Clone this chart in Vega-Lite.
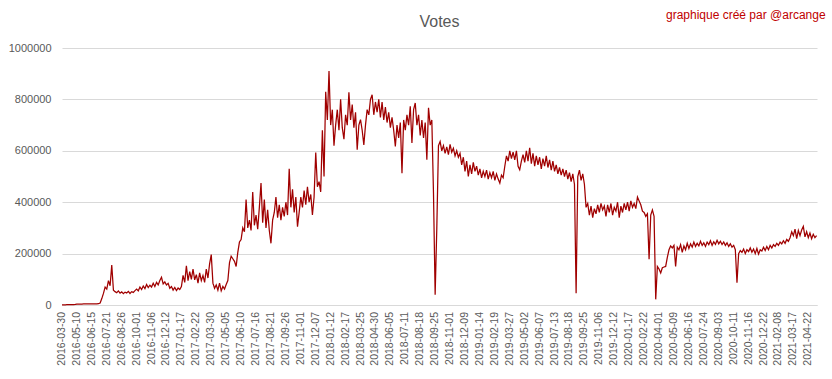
{
 "$schema": "https://vega.github.io/schema/vega-lite/v6.json",
 "width": 755, "height": 257,
 "autosize": {"type": "none"},
 "padding": {"left": 62, "top": 48, "right": 15, "bottom": 74},
 "background": "white",
 "config": {"view": {"stroke": null}, "font": "Liberation Sans"},
 "title": {"text": "Votes", "fontSize": 16, "fontWeight": "normal", "color": "#595959", "anchor": "middle", "offset": -21, "font": "Liberation Sans"},
 "layer": [
  {
   "data": {"values": [
{"d":0,"v":500},{"d":4,"v":600},{"d":8,"v":800},{"d":12,"v":1000},{"d":16,"v":1000},{"d":20,"v":1200},{"d":24,"v":1500},{"d":28,"v":1500},{"d":32,"v":2000},{"d":36,"v":3000},{"d":40,"v":3500},{"d":44,"v":3500},{"d":48,"v":3800},{"d":52,"v":4000},{"d":56,"v":4000},{"d":60,"v":4000},{"d":64,"v":4200},{"d":68,"v":4200},{"d":72,"v":4500},{"d":76,"v":4500},{"d":80,"v":4500},{"d":84,"v":4800},{"d":88,"v":5000},{"d":92,"v":8000},{"d":96,"v":25000},{"d":100,"v":45000},{"d":104,"v":70000},{"d":108,"v":62000},{"d":112,"v":95000},{"d":116,"v":75000},{"d":120,"v":155000},{"d":124,"v":58000},{"d":128,"v":52000},{"d":132,"v":48000},{"d":136,"v":55000},{"d":140,"v":46000},{"d":144,"v":51000},{"d":148,"v":44000},{"d":152,"v":50000},{"d":156,"v":47000},{"d":160,"v":53000},{"d":164,"v":45000},{"d":168,"v":52000},{"d":172,"v":49000},{"d":176,"v":56000},{"d":180,"v":62000},{"d":184,"v":55000},{"d":188,"v":70000},{"d":192,"v":60000},{"d":196,"v":74000},{"d":200,"v":64000},{"d":204,"v":80000},{"d":208,"v":68000},{"d":212,"v":77000},{"d":216,"v":70000},{"d":220,"v":85000},{"d":224,"v":72000},{"d":228,"v":88000},{"d":232,"v":78000},{"d":236,"v":95000},{"d":240,"v":108000},{"d":244,"v":82000},{"d":248,"v":90000},{"d":252,"v":78000},{"d":256,"v":84000},{"d":260,"v":65000},{"d":264,"v":72000},{"d":268,"v":58000},{"d":272,"v":68000},{"d":276,"v":56000},{"d":280,"v":66000},{"d":284,"v":60000},{"d":288,"v":72000},{"d":292,"v":115000},{"d":296,"v":88000},{"d":300,"v":152000},{"d":304,"v":95000},{"d":308,"v":130000},{"d":312,"v":100000},{"d":316,"v":140000},{"d":320,"v":98000},{"d":324,"v":118000},{"d":328,"v":85000},{"d":332,"v":125000},{"d":336,"v":95000},{"d":340,"v":115000},{"d":344,"v":88000},{"d":348,"v":140000},{"d":352,"v":105000},{"d":356,"v":160000},{"d":360,"v":196000},{"d":364,"v":85000},{"d":368,"v":65000},{"d":372,"v":78000},{"d":376,"v":58000},{"d":380,"v":85000},{"d":384,"v":55000},{"d":388,"v":72000},{"d":392,"v":62000},{"d":396,"v":80000},{"d":400,"v":95000},{"d":404,"v":165000},{"d":408,"v":190000},{"d":412,"v":180000},{"d":416,"v":170000},{"d":420,"v":150000},{"d":424,"v":205000},{"d":428,"v":245000},{"d":432,"v":255000},{"d":436,"v":300000},{"d":440,"v":285000},{"d":444,"v":410000},
{"d":448,"v":300000},{"d":452,"v":330000},{"d":456,"v":290000},{"d":460,"v":440000},{"d":464,"v":310000},{"d":468,"v":350000},{"d":472,"v":295000},{"d":476,"v":380000},{"d":480,"v":475000},{"d":484,"v":320000},{"d":488,"v":410000},{"d":492,"v":300000},{"d":496,"v":370000},{"d":500,"v":290000},{"d":504,"v":240000},{"d":508,"v":330000},{"d":512,"v":360000},{"d":516,"v":420000},{"d":520,"v":340000},{"d":524,"v":390000},{"d":528,"v":330000},{"d":532,"v":380000},{"d":536,"v":345000},{"d":540,"v":400000},{"d":544,"v":350000},{"d":548,"v":530000},{"d":552,"v":380000},{"d":556,"v":450000},{"d":560,"v":360000},{"d":564,"v":420000},{"d":568,"v":305000},{"d":572,"v":360000},{"d":576,"v":420000},{"d":580,"v":380000},{"d":584,"v":445000},{"d":588,"v":390000},{"d":592,"v":460000},{"d":596,"v":400000},{"d":600,"v":430000},{"d":604,"v":350000},{"d":608,"v":420000},{"d":612,"v":593000},{"d":616,"v":460000},{"d":620,"v":480000},{"d":624,"v":440000},{"d":628,"v":680000},{"d":632,"v":500000},{"d":636,"v":830000},{"d":640,"v":720000},{"d":644,"v":910000},{"d":648,"v":700000},{"d":652,"v":760000},{"d":656,"v":620000},{"d":660,"v":700000},{"d":664,"v":760000},{"d":668,"v":680000},{"d":672,"v":800000},{"d":676,"v":690000},{"d":680,"v":645000},{"d":684,"v":740000},{"d":688,"v":700000},{"d":692,"v":828000},{"d":696,"v":720000},{"d":700,"v":780000},{"d":704,"v":690000},{"d":708,"v":750000},{"d":712,"v":604000},{"d":716,"v":700000},{"d":720,"v":721000},{"d":724,"v":680000},{"d":728,"v":623000},{"d":732,"v":700000},{"d":736,"v":760000},{"d":740,"v":740000},{"d":744,"v":800000},{"d":748,"v":818000},{"d":752,"v":740000},{"d":756,"v":790000},{"d":760,"v":750000},{"d":764,"v":800000},{"d":768,"v":730000},{"d":772,"v":790000},{"d":776,"v":720000},{"d":780,"v":770000},{"d":784,"v":710000},{"d":788,"v":750000},{"d":792,"v":690000},{"d":796,"v":730000},{"d":800,"v":680000},{"d":804,"v":617000},{"d":808,"v":700000},{"d":812,"v":650000},{"d":816,"v":710000},{"d":820,"v":513000},{"d":824,"v":720000},{"d":828,"v":680000},{"d":832,"v":740000},{"d":836,"v":700000},{"d":840,"v":773000},{"d":844,"v":630000},{"d":848,"v":760000},{"d":852,"v":786000},{"d":856,"v":700000},{"d":860,"v":740000},{"d":864,"v":660000},{"d":868,"v":720000},{"d":872,"v":650000},{"d":876,"v":710000},{"d":880,"v":565000},{"d":884,"v":767000},{"d":888,"v":700000},{"d":892,"v":720000},{"d":896,"v":435000},{"d":900,"v":40000},{"d":904,"v":300000},{"d":908,"v":620000},{"d":912,"v":636000},{"d":916,"v":600000},{"d":920,"v":620000},{"d":924,"v":590000},{"d":928,"v":615000},{"d":932,"v":585000},{"d":936,"v":625000},{"d":940,"v":595000},{"d":944,"v":610000},{"d":948,"v":580000},{"d":952,"v":600000},{"d":956,"v":575000},{"d":960,"v":590000},{"d":964,"v":545000},{"d":968,"v":575000},{"d":972,"v":520000},{"d":976,"v":560000},{"d":980,"v":500000},{"d":984,"v":545000},{"d":988,"v":510000},{"d":992,"v":555000},{"d":996,"v":520000},{"d":1000,"v":540000},{"d":1004,"v":505000},{"d":1008,"v":530000},{"d":1012,"v":495000},{"d":1016,"v":520000},{"d":1020,"v":500000},{"d":1024,"v":525000},{"d":1028,"v":490000},{"d":1032,"v":515000},{"d":1036,"v":495000},{"d":1040,"v":520000},{"d":1044,"v":485000},{"d":1048,"v":510000},{"d":1052,"v":490000},{"d":1056,"v":474000},{"d":1060,"v":505000},{"d":1064,"v":495000},{"d":1068,"v":540000},{"d":1072,"v":580000},{"d":1076,"v":560000},{"d":1080,"v":600000},{"d":1084,"v":570000},{"d":1088,"v":595000},{"d":1092,"v":565000},{"d":1096,"v":600000},{"d":1100,"v":540000},{"d":1104,"v":526000},{"d":1108,"v":560000},{"d":1112,"v":585000},{"d":1116,"v":555000},{"d":1120,"v":600000},{"d":1124,"v":560000},{"d":1128,"v":612000},{"d":1132,"v":550000},{"d":1136,"v":590000},{"d":1140,"v":540000},{"d":1144,"v":580000},{"d":1148,"v":545000},{"d":1152,"v":575000},{"d":1156,"v":530000},{"d":1160,"v":570000},{"d":1164,"v":540000},{"d":1168,"v":580000},{"d":1172,"v":535000},{"d":1176,"v":565000},{"d":1180,"v":525000},{"d":1184,"v":560000},{"d":1188,"v":520000},{"d":1192,"v":545000},{"d":1196,"v":510000},{"d":1200,"v":535000},{"d":1204,"v":505000},{"d":1208,"v":530000},{"d":1212,"v":500000},{"d":1216,"v":525000},{"d":1220,"v":490000},{"d":1224,"v":515000},{"d":1228,"v":480000},{"d":1232,"v":510000},{"d":1236,"v":470000},{"d":1240,"v":46000},{"d":1244,"v":500000},{"d":1248,"v":525000},{"d":1252,"v":485000},{"d":1256,"v":510000},{"d":1260,"v":470000},{"d":1264,"v":380000},{"d":1268,"v":395000},{"d":1272,"v":350000},{"d":1276,"v":385000},{"d":1280,"v":340000},{"d":1284,"v":375000},{"d":1288,"v":355000},{"d":1292,"v":390000},{"d":1296,"v":360000},{"d":1300,"v":395000},{"d":1304,"v":370000},{"d":1308,"v":385000},{"d":1312,"v":345000},{"d":1316,"v":390000},{"d":1320,"v":360000},{"d":1324,"v":395000},{"d":1328,"v":350000},{"d":1332,"v":380000},{"d":1336,"v":365000},{"d":1340,"v":400000},{"d":1344,"v":340000},{"d":1348,"v":385000},{"d":1352,"v":360000},{"d":1356,"v":395000},{"d":1360,"v":370000},{"d":1364,"v":400000},{"d":1368,"v":365000},{"d":1372,"v":405000},{"d":1376,"v":380000},{"d":1380,"v":395000},{"d":1384,"v":375000},{"d":1388,"v":420000},{"d":1392,"v":405000},{"d":1396,"v":390000},{"d":1400,"v":365000},{"d":1404,"v":360000},{"d":1408,"v":345000},{"d":1412,"v":355000},{"d":1416,"v":178000},{"d":1420,"v":350000},{"d":1424,"v":370000},{"d":1428,"v":345000},{"d":1432,"v":22000},{"d":1436,"v":150000},{"d":1440,"v":140000},{"d":1444,"v":125000},{"d":1448,"v":145000},{"d":1452,"v":148000},{"d":1456,"v":150000},{"d":1460,"v":185000},{"d":1464,"v":215000},{"d":1468,"v":230000},{"d":1472,"v":222000},{"d":1476,"v":232000},{"d":1480,"v":150000},{"d":1484,"v":225000},{"d":1488,"v":215000},{"d":1492,"v":235000},{"d":1496,"v":205000},{"d":1500,"v":230000},{"d":1504,"v":215000},{"d":1508,"v":240000},{"d":1512,"v":220000},{"d":1516,"v":238000},{"d":1520,"v":225000},{"d":1524,"v":245000},{"d":1528,"v":228000},{"d":1532,"v":240000},{"d":1536,"v":230000},{"d":1540,"v":248000},{"d":1544,"v":232000},{"d":1548,"v":242000},{"d":1552,"v":228000},{"d":1556,"v":245000},{"d":1560,"v":235000},{"d":1564,"v":250000},{"d":1568,"v":232000},{"d":1572,"v":246000},{"d":1576,"v":236000},{"d":1580,"v":252000},{"d":1584,"v":238000},{"d":1588,"v":248000},{"d":1592,"v":235000},{"d":1596,"v":245000},{"d":1600,"v":232000},{"d":1604,"v":242000},{"d":1608,"v":228000},{"d":1612,"v":238000},{"d":1616,"v":225000},{"d":1620,"v":232000},{"d":1624,"v":215000},{"d":1628,"v":87000},{"d":1632,"v":200000},{"d":1636,"v":212000},{"d":1640,"v":205000},{"d":1644,"v":218000},{"d":1648,"v":200000},{"d":1652,"v":215000},{"d":1656,"v":208000},{"d":1660,"v":222000},{"d":1664,"v":205000},{"d":1668,"v":218000},{"d":1672,"v":200000},{"d":1676,"v":220000},{"d":1680,"v":198000},{"d":1684,"v":215000},{"d":1688,"v":210000},{"d":1692,"v":225000},{"d":1696,"v":212000},{"d":1700,"v":228000},{"d":1704,"v":215000},{"d":1708,"v":232000},{"d":1712,"v":222000},{"d":1716,"v":235000},{"d":1720,"v":228000},{"d":1724,"v":240000},{"d":1728,"v":232000},{"d":1732,"v":245000},{"d":1736,"v":238000},{"d":1740,"v":250000},{"d":1744,"v":240000},{"d":1748,"v":255000},{"d":1752,"v":248000},{"d":1756,"v":262000},{"d":1760,"v":285000},{"d":1764,"v":270000},{"d":1768,"v":295000},{"d":1772,"v":258000},{"d":1776,"v":290000},{"d":1780,"v":270000},{"d":1784,"v":292000},{"d":1788,"v":306000},{"d":1792,"v":265000},{"d":1796,"v":285000},{"d":1800,"v":262000},{"d":1804,"v":280000},{"d":1808,"v":258000},{"d":1812,"v":275000},{"d":1816,"v":262000},{"d":1820,"v":270000}
   ]},
   "mark": {"type": "line", "color": "#a00000", "strokeWidth": 1.25},
   "encoding": {
    "x": {"field": "d", "type": "quantitative",
     "scale": {"domain": [0, 1821], "nice": false, "zero": false},
     "axis": {"title": null, "grid": false, "ticks": false, "labels": false, "domainColor": "#d9d9d9"}},
    "y": {"field": "v", "type": "quantitative",
     "scale": {"domain": [0, 1000000], "nice": false},
     "axis": {"title": null, "values": [0,100000,200000,300000,400000,500000,600000,700000,800000,900000,1000000], "format": "d", "grid": true, "gridColor": "#d9d9d9", "domain": false, "ticks": false, "labelColor": "#595959", "labelFontSize": 11, "labelPadding": 11}}
   }
  },
  {
   "data": {"values": [
{"d":0,"t":"2016-03-30"},{"d":36,"t":"2016-05-10"},{"d":72,"t":"2016-06-15"},{"d":108,"t":"2016-07-21"},{"d":144,"t":"2016-08-26"},{"d":180,"t":"2016-10-01"},{"d":216,"t":"2016-11-06"},{"d":252,"t":"2016-12-12"},{"d":288,"t":"2017-01-17"},{"d":324,"t":"2017-02-22"},{"d":360,"t":"2017-03-30"},{"d":396,"t":"2017-05-05"},{"d":432,"t":"2017-06-10"},{"d":468,"t":"2017-07-16"},{"d":504,"t":"2017-08-21"},{"d":540,"t":"2017-09-26"},{"d":576,"t":"2017-11-01"},{"d":612,"t":"2017-12-07"},{"d":648,"t":"2018-01-12"},{"d":684,"t":"2018-02-17"},{"d":720,"t":"2018-03-25"},{"d":756,"t":"2018-04-30"},{"d":792,"t":"2018-06-05"},{"d":828,"t":"2018-07-11"},{"d":864,"t":"2018-08-18"},{"d":900,"t":"2018-09-25"},{"d":936,"t":"2018-11-01"},{"d":972,"t":"2018-12-09"},{"d":1008,"t":"2019-01-14"},{"d":1044,"t":"2019-02-19"},{"d":1080,"t":"2019-03-27"},{"d":1116,"t":"2019-05-02"},{"d":1152,"t":"2019-06-07"},{"d":1188,"t":"2019-07-13"},{"d":1224,"t":"2019-08-18"},{"d":1260,"t":"2019-09-25"},{"d":1296,"t":"2019-11-06"},{"d":1332,"t":"2019-12-12"},{"d":1368,"t":"2020-01-17"},{"d":1404,"t":"2020-02-22"},{"d":1440,"t":"2020-04-01"},{"d":1476,"t":"2020-05-09"},{"d":1512,"t":"2020-06-16"},{"d":1548,"t":"2020-07-24"},{"d":1584,"t":"2020-09-03"},{"d":1620,"t":"2020-10-11"},{"d":1656,"t":"2020-11-16"},{"d":1692,"t":"2020-12-22"},{"d":1728,"t":"2021-02-08"},{"d":1764,"t":"2021-03-17"},{"d":1800,"t":"2021-04-22"}
   ]},
   "mark": {"type": "text", "angle": 270, "align": "right", "baseline": "middle", "color": "#595959", "fontSize": 10.5},
   "encoding": {
    "x": {"field": "d", "type": "quantitative"},
    "y": {"datum": -27000, "type": "quantitative"},
    "text": {"field": "t"}
   }
  },
  {
   "data": {"values": [{"label": "graphique créé par @arcange"}]},
   "mark": {"type": "text", "align": "right", "baseline": "middle", "color": "#c00000", "fontSize": 12, "dx": 9},
   "encoding": {
    "x": {"datum": 1820, "type": "quantitative"},
    "y": {"datum": 1130000, "type": "quantitative"},
    "text": {"field": "label"}
   }
  }
 ]
}
